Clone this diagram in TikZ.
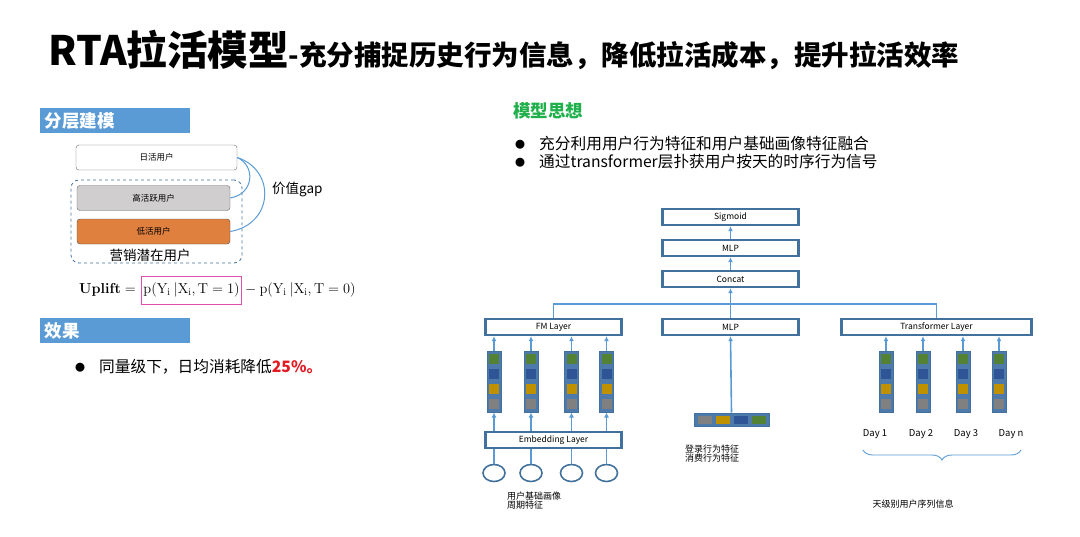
\documentclass[tikz,border=0pt]{standalone}
\usepackage{amsmath}
\usepackage[no-math]{fontspec}
\setmainfont{Noto Sans CJK SC}
\usepackage{xcolor}
\usepackage{tikz}
\usetikzlibrary{positioning,arrows.meta,decorations.pathreplacing,shapes.geometric,calc}

\definecolor{hdrblue}{HTML}{5B9BD5}
\definecolor{edgeblue}{HTML}{41719C}
\definecolor{linkblue}{HTML}{5B9BD5}
\definecolor{colblue}{HTML}{4D7AAB}
\definecolor{vgreen}{HTML}{548235}
\definecolor{vblue}{HTML}{2F5597}
\definecolor{vgold}{HTML}{BF9000}
\definecolor{vgray}{HTML}{808080}
\definecolor{lowor}{HTML}{E0803F}
\definecolor{highgray}{HTML}{D0CECE}
\definecolor{pinkbox}{HTML}{E050AA}
\definecolor{ideagreen}{HTML}{1FB04B}
\definecolor{hotred}{HTML}{E31B23}

\newcommand{\dotmark}{\raisebox{1.5pt}{\fontsize{10}{10}\selectfont ●}}

\begin{document}
\begin{tikzpicture}[x=1pt,y=-1pt,
    hdr/.style={fill=hdrblue,minimum width=150,minimum height=25,inner sep=0pt,text=white,font=\fontsize{17.5}{20}\selectfont\bfseries,text width=140},
    tier/.style={draw=gray!80!black,rounded corners=3,minimum width=153,minimum height=25,inner sep=0pt,font=\fontsize{8.5}{10}\selectfont},
    layer/.style={draw=edgeblue,line width=2.4pt,fill=white,minimum height=16,inner sep=0pt,font=\fontsize{8.5}{10}\selectfont},
    vcol/.style={fill=colblue,draw=edgeblue,line width=1pt,minimum width=14,minimum height=61,inner sep=0pt},
    sq/.style={minimum width=10,minimum height=10,inner sep=0pt},
    ring/.style={draw=edgeblue,line width=1.6pt,ellipse,minimum width=22,minimum height=17,inner sep=0pt},
    note/.style={font=\fontsize{9}{10}\selectfont,align=left,inner sep=0pt},
    bul/.style={font=\fontsize{15.7}{19}\selectfont,anchor=west,inner sep=0pt},
    arr/.style={-{Latex[length=5pt,width=5pt]},linkblue,line width=1.6pt},
    link/.style={linkblue,line width=1.6pt}]
  \useasboundingbox (0,0) rectangle (1080,536);
  % title
  \node[anchor=base west,inner sep=0pt,font=\bfseries] (title) at (48,65)
    {{\fontsize{40.5}{44}\selectfont RTA拉活模型}{\fontsize{27.5}{30}\selectfont -充分捕捉历史行为信息，降低拉活成本，提升拉活效率}};

  % left: layered users
  \node[hdr] (hlayer) at (115,120.5) {分层建模};
  \node[draw=edgeblue,line width=0.8pt,dashed,rounded corners=8,minimum width=171,minimum height=83,inner sep=0pt] (pool) at (156.5,221.5) {};
  \node[tier,fill=white,minimum width=161] (day) at (156.5,157.5) {日活用户};
  \node[tier,fill=highgray] (high) at (153.5,198) {高活跃用户};
  \node[tier,fill=lowor,draw=black!70] (low) at (153.5,231.5) {低活用户};
  \node[font=\fontsize{13.5}{15}\selectfont,inner sep=0pt] (poolname) at (150,255) {营销潜在用户};
  \draw[link,line width=1pt] (day.east) .. controls (256,166) and (254,194) .. (high.east);
  \draw[link,line width=1pt] (day.east) .. controls (276,170) and (274,224) .. (low.east);
  \node[font=\fontsize{13.5}{15}\selectfont,anchor=west,inner sep=0pt] (gap) at (272,190) {价值gap};
  % uplift
  \node[anchor=west,inner sep=0pt,font=\fontsize{14}{16}\selectfont] (upl) at (79,290) {$\mathbf{Uplift}=$};
  \node[draw=pinkbox,line width=0.8pt,right=5 of upl,minimum height=28,inner xsep=2,font=\fontsize{14}{16}\selectfont] (treat) {$\mathrm{p}(\mathrm{Y_i}\ |\mathrm{X_i},\mathrm{T}=1)$};
  \node[right=3 of treat,inner sep=0pt,font=\fontsize{14}{16}\selectfont] (ctrl) {$-\ \mathrm{p}(\mathrm{Y_i}\ |\mathrm{X_i},\mathrm{T}=0)$};

  % left: result
  \node[hdr] (hres) at (115,330.5) {效果};
  \node[bul] (res) at (75,367) {\dotmark\hspace{14pt}同量级下，日均消耗降低{\color{hotred}\bfseries 25\%。}};

  % right: idea
  \node[anchor=west,inner sep=0pt,text=ideagreen,font=\fontsize{17.5}{20}\selectfont\bfseries] (idea) at (513,111) {模型思想};
  \node[bul] (b1) at (515,144) {\dotmark\hspace{14pt}充分利用用户行为特征和用户基础画像特征融合};
  \node[bul] (b2) at (515,162) {\dotmark\hspace{14pt}通过transformer层扑获用户按天的时序行为信号};

  % top stack
  \node[layer,minimum width=136] (sig) at (730.5,217) {Sigmoid};
  \node[layer,minimum width=136] (mlp) at (730.5,248) {MLP};
  \node[layer,minimum width=136] (concat) at (730.5,279) {Concat};
  \draw[arr] (mlp.north) -- (sig.south);
  \draw[arr] (concat.north) -- (mlp.south);

  % branches
  \node[layer,minimum width=136] (fm) at (553.5,327) {FM Layer};
  \node[layer,minimum width=136] (mlpb) at (730.5,327) {MLP};
  \node[layer,minimum width=190] (trans) at (936.5,327) {Transformer Layer};
  \coordinate (join) at (730.5,304);
  \draw[link] (fm.north) |- (join) -| (trans.north);
  \draw[arr] (mlpb.north) -- (concat.south);

  % FM side
  \node[layer,minimum width=136] (emb) at (553.5,440) {Embedding Layer};
  \foreach \x [count=\i] in {494,531,571.5,606.5} {
    \node[vcol] (fmv\i) at (\x,381.5) {};
    \node[sq,fill=vgreen] at (\x,359) {};
    \node[sq,fill=vblue] at (\x,373.5) {};
    \node[sq,fill=vgold] at (\x,388.5) {};
    \node[sq,fill=vgray] at (\x,403.5) {};
    \node[ring] (in\i) at (\x,473) {};
    \draw[arr] (fmv\i.north) -- (fmv\i.north |- fm.south);
    \draw[arr] (fmv\i.south |- emb.north) -- (fmv\i.south);
    \draw[link] (in\i.north) -- (in\i.north |- emb.south);
  }
  \node[note,anchor=north west] (fmtxt) at (507,492) {用户基础画像\\[-1pt]周期特征};

  % MLP side
  \node[fill=colblue,draw=edgeblue,line width=1pt,minimum width=75,minimum height=13,inner sep=0pt] (hvec) at (731.5,419.5) {};
  \foreach \x/\c in {704.5/vgray,723/vgold,740.5/vblue,758.5/vgreen}
    \node[sq,minimum width=14,minimum height=8,fill=\c] at (\x,419.5) {};
  \draw[arr] (hvec.north) -- (mlpb.south);
  \node[note,anchor=north west] (mlptxt) at (685,445) {登录行为特征\\[-1pt]消费行为特征};

  % Transformer side
  \foreach \x/\d [count=\i] in {886/1,923/2,963/3,999/n} {
    \node[vcol] (tv\i) at (\x,381.5) {};
    \node[sq,fill=vgreen] at (\x,359) {};
    \node[sq,fill=vblue] at (\x,373.5) {};
    \node[sq,fill=vgold] at (\x,388.5) {};
    \node[sq,fill=vgray] at (\x,403.5) {};
    \draw[arr] (tv\i.north) -- (tv\i.north |- trans.south);
  }
  \foreach \x/\d [count=\i] in {875/1,921/2,966/3,1011/n}
    \node[font=\fontsize{9.5}{11}\selectfont,inner sep=0pt] (day\i) at (\x,434) {Day \d};
  \coordinate (brl) at (863,450);
  \coordinate (brr) at (1021,450);
  \draw[linkblue,line width=0.9pt,decorate,decoration={brace,mirror,amplitude=10pt}] (brl) -- (brr);
  \node[note] (trtxt) at (913,504) {天级别用户序列信息};
\end{tikzpicture}
\end{document}
